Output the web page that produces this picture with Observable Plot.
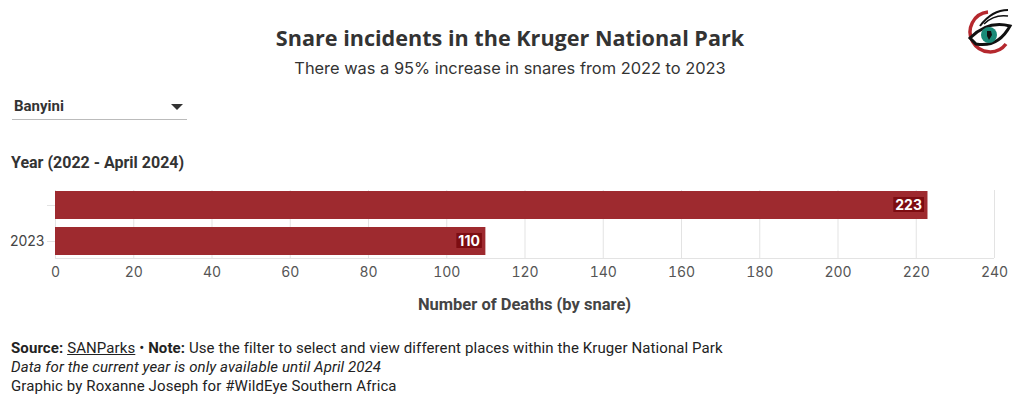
<!DOCTYPE html>
<html>
<head>
<meta charset="utf-8">
<script src="https://cdn.jsdelivr.net/npm/d3@7"></script>
<script src="https://cdn.jsdelivr.net/npm/@observablehq/plot@0.6"></script>
<style>
  html, body { margin: 0; padding: 0; background: #fff; }
  body { width: 1020px; height: 407px; position: relative; overflow: hidden; font-family: "Open Sans", sans-serif; color: #333; }
  .abs { position: absolute; white-space: nowrap; }
  #title { left: 0; width: 1020px; text-align: center; top: 23px; font-family: "Open Sans", sans-serif; font-weight: 700; font-size: 21.6px; color: #333; }
  #subtitle { left: 0; width: 1020px; text-align: center; top: 58px; font-family: "Inter", sans-serif; font-size: 16.4px; color: #333; }
  #dropdown { left: 12px; top: 97px; width: 175px; height: 22px; border-bottom: 1px solid #bbb; font-family: "Roboto", sans-serif; font-weight: 700; font-size: 15px; color: #333; }
  #dropdown span { position: absolute; left: 2px; top: 0px; }
  #dropdown svg { position: absolute; right: 4px; top: 7px; }
  #ytitle { left: 11px; top: 153px; font-family: "Roboto", sans-serif; font-weight: 700; font-size: 16px; color: #333; }
  #xtitle { left: 55px; width: 939px; text-align: center; top: 295px; font-family: "Roboto", sans-serif; font-weight: 700; font-size: 16.5px; color: #444; }
  #chart { left: 0; top: 180px; }
  .foot { left: 11px; font-family: "Roboto", sans-serif; font-size: 15px; color: #222; letter-spacing: 0.1px; }
  #logo { left: 962px; top: 4px; }
</style>
</head>
<body>
<div id="title" class="abs"></div>
<div id="subtitle" class="abs"></div>
<div id="dropdown" class="abs"><span></span><svg width="12" height="7"><path d="M0,0 L12,0 L6,6 Z" fill="#333"/></svg></div>
<div id="ytitle" class="abs"></div>
<div id="chart" class="abs"></div>
<div id="xtitle" class="abs"></div>
<div class="abs foot" style="top:339px"><b>Source:</b> <u>SANParks</u> • <b>Note:</b> Use the filter to select and view different places within the Kruger National Park</div>
<div class="abs foot" style="top:358px"><i>Data for the current year is only available until April 2024</i></div>
<div class="abs foot" style="top:377px">Graphic by Roxanne Joseph for #WildEye Southern Africa</div>
<svg id="logo" class="abs" width="54" height="54" viewBox="0 0 54 54">
  <path d="M26,8 A20,20 0 1,0 44,40" fill="none" stroke="#b5282e" stroke-width="3.5"/>
  <path d="M8,34 Q26,16 48,22 Q36,44 14,40 Z" fill="#fff" stroke="#111" stroke-width="3"/>
  <circle cx="27" cy="31" r="8" fill="#1a8a78"/>
  <path d="M25,27 L29,27 L30,31 L27,36 L25,32 Z" fill="#111"/>
  <path d="M18,22 Q30,6 46,6" fill="none" stroke="#111" stroke-width="2"/>
  <path d="M22,20 Q32,10 46,12" fill="none" stroke="#111" stroke-width="1.5"/>
</svg>
<script>
const titleText = "Snare incidents in the Kruger National Park";
const subtitleText = "There was a 95% increase in snares from 2022 to 2023";
const placeName = "Banyini";
const yTitle = "Year (2022 - April 2024)";
const xTitle = "Number of Deaths (by snare)";

const years = ["2022", "2023"];
const yearTickLabels = ["", "2023"];
const deaths = [223, 110];
const xTicks = [0, 20, 40, 60, 80, 100, 120, 140, 160, 180, 200, 220, 240];

document.getElementById("title").textContent = titleText;
document.getElementById("subtitle").textContent = subtitleText;
document.querySelector("#dropdown span").textContent = placeName;
document.getElementById("ytitle").textContent = yTitle;
document.getElementById("xtitle").textContent = xTitle;

const data = years.map((y, i) => ({year: y, value: deaths[i]}));
const tickLabelOf = new Map(years.map((y, i) => [y, yearTickLabels[i]]));

const barColor = "#9e2a2f";
const labelBg = "#7d0d12";

const plot = Plot.plot({
  width: 1020,
  height: 140,
  marginTop: 7,
  marginBottom: 61,
  marginLeft: 55,
  marginRight: 26,
  style: {fontFamily: "Inter, sans-serif", fontSize: "14px", color: "#555", background: "transparent"},
  x: {domain: [0, 240], ticks: xTicks, label: null},
  y: {domain: years, padding: 0.22, paddingOuter: 0.11, label: null},
  marks: [
    Plot.gridX(xTicks, {stroke: "#e3e3e3", strokeOpacity: 1, insetTop: 3, insetBottom: 1}),
    Plot.ruleY([years[years.length - 1]], {stroke: "#e3e3e3", dy: 17, x1: 0, x2: 240}),
    Plot.barX(data, {x: "value", y: "year", fill: barColor}),
    Plot.axisX({ticks: xTicks, tickSize: 0, tickPadding: 8, fontSize: 14, fill: "#555", label: null}),
    Plot.axisY({tickSize: 8, stroke: "#e3e3e3", tickPadding: 3, fontSize: 14, fill: "#444", tickFormat: d => tickLabelOf.get(d), label: null}),
    Plot.text(data, {x: "value", y: "year", text: d => String(d.value), textAnchor: "end", dx: -6, fill: "white", fontWeight: "bold", fontSize: 14, className: "barlabel"})
  ]
});
document.getElementById("chart").appendChild(plot);

// add dark boxes behind the value labels, sized from the rendered text
plot.querySelectorAll("g.barlabel text").forEach(t => {
  const b = t.getBBox();
  const r = document.createElementNS("http://www.w3.org/2000/svg", "rect");
  r.setAttribute("x", b.x - 2);
  r.setAttribute("y", b.y + 1);
  r.setAttribute("width", b.width + 4);
  r.setAttribute("height", b.height - 2);
  r.setAttribute("fill", labelBg);
  const tr = t.getAttribute("transform");
  if (tr) r.setAttribute("transform", tr);
  t.parentNode.insertBefore(r, t);
});
</script>
</body>
</html>
